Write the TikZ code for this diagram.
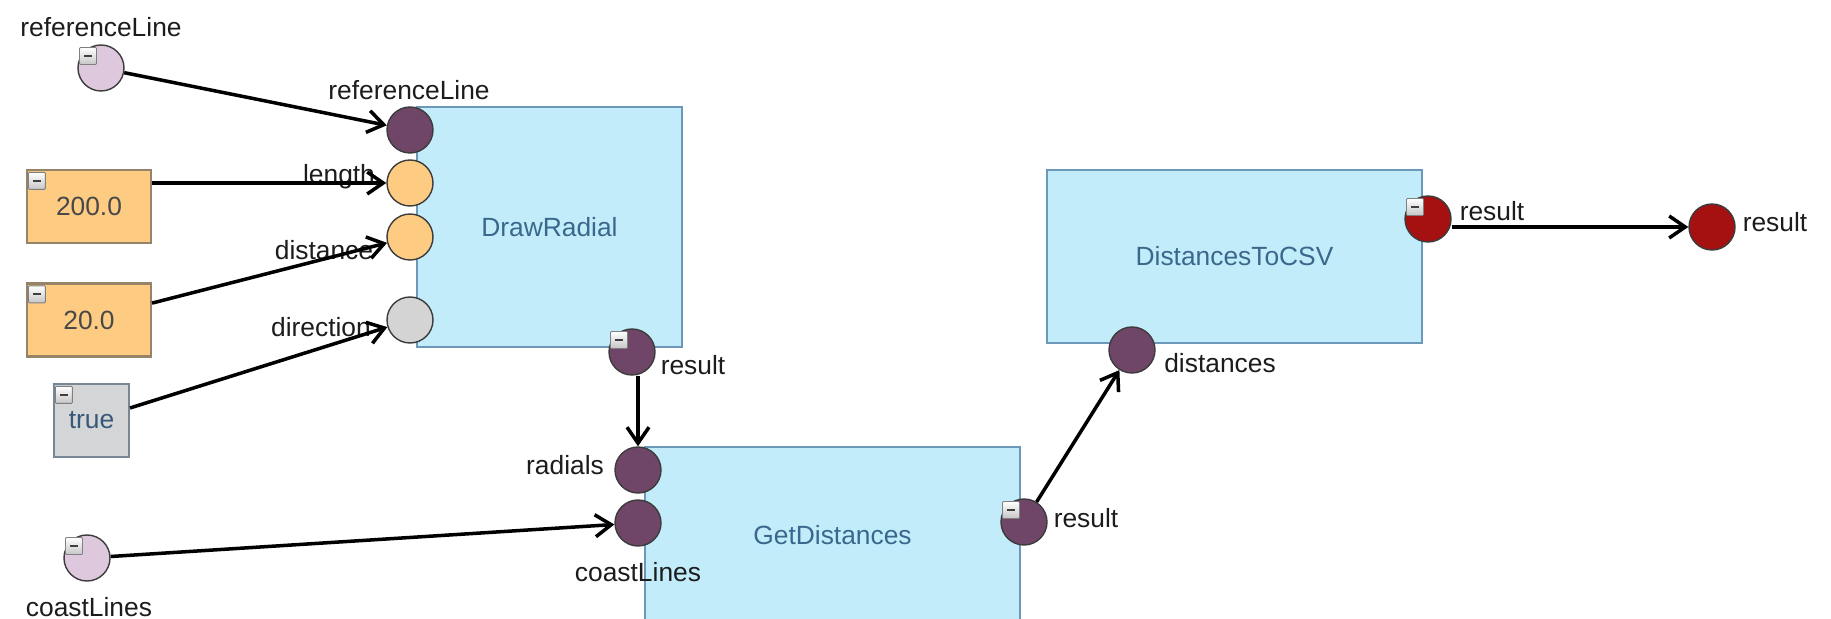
\documentclass[tikz,border=0pt]{standalone}
\usepackage{fontspec}
\setmainfont{Liberation Sans}
\usetikzlibrary{arrows.meta}
\definecolor{blockFill}{RGB}{195,236,251}
\definecolor{blockEdge}{RGB}{108,152,186}
\definecolor{blockInk}{RGB}{58,104,140}
\definecolor{valFill}{RGB}{253,204,130}
\definecolor{valEdge}{RGB}{150,132,104}
\definecolor{valInk}{RGB}{72,72,72}
\definecolor{boolFill}{RGB}{212,213,215}
\definecolor{boolEdge}{RGB}{120,135,150}
\definecolor{boolInk}{RGB}{55,88,120}
\definecolor{portDark}{RGB}{112,70,104}
\definecolor{portLight}{RGB}{221,200,221}
\definecolor{portNum}{RGB}{253,204,130}
\definecolor{portGray}{RGB}{212,212,212}
\definecolor{portOut}{RGB}{165,16,16}
\definecolor{portEdge}{RGB}{60,60,60}
\definecolor{tagInk}{RGB}{28,28,28}
\newcommand\diagfont{\fontsize{15}{18}\selectfont}
\tikzset{
  % one operation of the workflow
  block/.style={draw=blockEdge, fill=blockFill, line width=1.2pt,
    text=blockInk, font=\diagfont, inner sep=0pt},
  % constants fed into the blocks
  value/.style={draw=valEdge, fill=valFill, line width=1.2pt, text=valInk,
    font=\diagfont, minimum width=24.8mm, minimum height=14.6mm, inner sep=0pt},
  boolval/.style={value, draw=boolEdge, fill=boolFill, text=boolInk, minimum width=15mm},
  % the round ports
  port/.style={circle, draw=portEdge, line width=0.8pt, minimum size=9.2mm, inner sep=0pt},
  inport/.style={port, fill=portDark},
  numport/.style={port, fill=portNum},
  boolport/.style={port, fill=portGray},
  outport/.style={port, fill=portOut},
  source/.style={port, fill=portLight},
  % the little collapse button
  icon/.style={draw=gray, line width=0.5pt, rounded corners=0.6pt,
    minimum size=3.4mm, inner sep=0pt,
    top color=white, bottom color=gray!45,
    path picture={\draw[line width=1.1pt, black!75]
      ([xshift=-0.8mm]path picture bounding box.center) --
      ([xshift=0.8mm]path picture bounding box.center);}},
  tag/.style={font=\diagfont, text=tagInk, inner sep=1pt},
  wire/.style={-{Straight Barb[length=3.2mm,width=4.4mm]}, line width=2pt, black},
}

\begin{document}
\begin{tikzpicture}[x=0.2mm, y=-0.2mm]
\useasboundingbox (0,0) rectangle (1831,619);
\clip (0,0) rectangle (1831,619);

% ------------------------------- blocks ------------------------------------
\node[block, minimum width=53mm, minimum height=48mm] (radial) at (549.5,227) {DrawRadial};
\node[block, minimum width=75mm, minimum height=35.2mm] (getdist) at (832.5,535) {GetDistances};
\node[block, minimum width=75mm, minimum height=34.6mm] (tocsv) at (1234.5,256.5) {DistancesToCSV};

% ------------------------------- constants ---------------------------------
\node[value] (v200) at (89,206.5) {200.0};
\node[value] (v20) at (89,320) {20.0};
\node[boolval] (vtrue) at (91.5,420.5) {true};

% ------------------------------- labels ------------------------------------
\node[tag] (lrefin) at (101,27) {referenceLine};
\node[tag] (lref) at (409,90) {referenceLine};
\node[tag] (llen) at (339,177) {length};
\node[tag] (ldist) at (324,250) {distance};
\node[tag] (ldir) at (321,327) {direction};
\node[tag] (lres1) at (693,365) {result};
\node[tag] (lrad) at (565,465) {radials};
\node[tag] (lcoast) at (638,572) {coastLines};
\node[tag] (lres2) at (1086,518) {result};
\node[tag] (ldists) at (1220,363) {distances};
\node[tag] (lres3) at (1492,211) {result};
\node[tag] (lout) at (1775,222) {result};
\node[tag] (lcoastin) at (89,607) {coastLines};

% ------------------------------- ports -------------------------------------
\node[source] (refin) at (101,68) {};
\node[source] (coastin) at (87,558) {};
\node[inport] (refport) at (410,130) {};
\node[numport] (lenport) at (410,183) {};
\node[numport] (distport) at (410,237) {};
\node[boolport] (dirport) at (410,320) {};
\node[inport] (drres) at (632,352) {};
\node[inport] (radport) at (638,470) {};
\node[inport] (coastport) at (638,523) {};
\node[inport] (gdres) at (1024,522) {};
\node[inport] (distsport) at (1132,350) {};
\node[outport] (csvres) at (1428,219) {};
\node[outport] (outres) at (1712,227) {};

% collapse buttons
\foreach \p in {refin,coastin,drres,gdres,csvres}
  \node[icon] (\p-ic) at ([shift={(-13,-12)}]\p.center) {};
\foreach \v in {v200,v20,vtrue}
  \node[icon, anchor=north west] (\v-ic) at ([shift={(2,3)}]\v.north west) {};

% ------------------------------- wires -------------------------------------
\draw[wire] (refin) -- (refport);
\draw[wire] (v200.east |- lenport) -- (lenport);
\draw[wire] (v20.15) -- (distport);
\draw[wire] (vtrue.18) -- (dirport);
\draw[wire] (drres.south -| radport) -- (radport);
\draw[wire] (coastin) -- (coastport);
\draw[wire] (gdres) -- (distsport);
\draw[wire] (csvres.east |- outres) -- (outres);

\end{tikzpicture}
\end{document}
